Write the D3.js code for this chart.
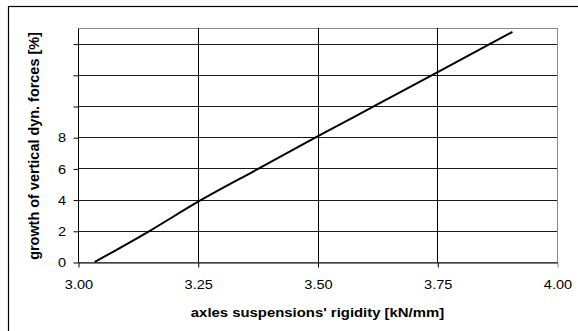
<!DOCTYPE html>
<html>
<head>
<meta charset="utf-8">
<script src="https://cdn.jsdelivr.net/npm/d3@7"></script>
<style>
  html, body { margin: 0; padding: 0; background: #fff; }
  svg { display: block; }
</style>
</head>
<body>
<svg id="chart" width="578" height="331"></svg>
<script>
// Measured curve: rigidity (kN/mm) vs growth of vertical dynamic forces (%)
const rigidity = [3.035, 3.15, 3.25, 3.375, 3.50, 3.625, 3.75, 3.907];
const growth   = [0.00,  2.00, 3.85, 5.95,  8.05, 10.10, 12.15, 14.75];

const xTicks = [3.00, 3.25, 3.50, 3.75, 4.00];
const xTickLabels = ["3.00", "3.25", "3.50", "3.75", "4.00"];
const yTicks = [0, 2, 4, 6, 8, 10, 12, 14];
const yTickLabels = ["0", "2", "4", "6", "8", "", "", ""];

const xTitle = "axles suspensions' rigidity [kN/mm]";
const yTitle = "growth of vertical dyn. forces [%]";

const svg = d3.select("#chart");
const W = 578, H = 331;
const plot = { left: 78, top: 28, right: 557, bottom: 262 };

const x = d3.scaleLinear().domain([3.0, 4.0]).range([plot.left, plot.right]);
const y = d3.scaleLinear().domain([0, 15]).range([plot.bottom, plot.top]);

const font = "'Liberation Sans', Arial, sans-serif";
const wide = 1.12;   // glyphs are drawn slightly wide

// outer frame (extends past the right and bottom edges)
svg.append("rect")
  .attr("x", 8.5).attr("y", 6.5)
  .attr("width", W).attr("height", H)
  .attr("fill", "none").attr("stroke", "#000").attr("stroke-width", 1.2);

// plot area border
svg.append("rect")
  .attr("x", plot.left + 0.5).attr("y", plot.top + 0.5)
  .attr("width", plot.right - plot.left).attr("height", plot.bottom - plot.top)
  .attr("fill", "#fff").attr("stroke", "#8a8a8a").attr("stroke-width", 1);

// horizontal gridlines
svg.append("g").selectAll("line")
  .data(yTicks.filter(d => d > 0))
  .join("line")
  .attr("x1", plot.left).attr("x2", plot.right)
  .attr("y1", d => Math.round(y(d)) + 0.5).attr("y2", d => Math.round(y(d)) + 0.5)
  .attr("stroke", "#1a1a1a").attr("stroke-width", 1);

// vertical gridlines
svg.append("g").selectAll("line")
  .data(xTicks.filter(d => d > 3.0 && d < 4.0))
  .join("line")
  .attr("x1", d => Math.round(x(d)) + 0.5).attr("x2", d => Math.round(x(d)) + 0.5)
  .attr("y1", plot.top).attr("y2", plot.bottom)
  .attr("stroke", "#000").attr("stroke-width", 1);

// x axis
const xAxis = d3.axisBottom(x)
  .tickValues(xTicks)
  .tickFormat((d, i) => xTickLabels[i])
  .tickSizeInner(5).tickSizeOuter(0).tickPadding(12);
const gx = svg.append("g")
  .attr("transform", `translate(0.5,${plot.bottom + 0.5})`)
  .call(xAxis);
gx.select(".domain").attr("stroke", "#000");
gx.selectAll(".tick line").attr("stroke", "#000");
gx.selectAll(".tick:last-child line").attr("stroke", "#8a8a8a");
gx.selectAll("text")
  .attr("font-family", font).attr("font-size", 13).attr("fill", "#000")
  .attr("transform", `scale(${wide},1)`);

// y axis
const yAxis = d3.axisLeft(y)
  .tickValues(yTicks)
  .tickFormat((d, i) => yTickLabels[i])
  .tickSizeInner(5).tickSizeOuter(0).tickPadding(7);
const gy = svg.append("g")
  .attr("transform", `translate(${plot.left + 0.5},0.5)`)
  .call(yAxis);
gy.select(".domain").attr("stroke", "#000").attr("d", `M0,${plot.top}V${plot.bottom}`);
gy.selectAll(".tick line").attr("stroke", "#000");
gy.selectAll("text")
  .attr("font-family", font).attr("font-size", 13).attr("fill", "#000")
  .attr("x", 0)
  .attr("transform", `translate(-12.5,0) scale(${wide},1)`);

// data curve
const pts = rigidity.map((r, i) => [r, growth[i]]);
svg.append("path")
  .datum(pts)
  .attr("fill", "none")
  .attr("stroke", "#000")
  .attr("stroke-width", 2)
  .attr("d", d3.line().x(d => x(d[0])).y(d => y(d[1])).curve(d3.curveMonotoneX));

// axis titles
svg.append("text")
  .attr("transform", `translate(${(plot.left + plot.right) / 2},317) scale(${wide},1)`)
  .attr("text-anchor", "middle")
  .attr("font-family", font).attr("font-size", 13.3).attr("font-weight", "bold")
  .text(xTitle);

svg.append("text")
  .attr("transform", `translate(39,${(plot.top + plot.bottom) / 2 + 1}) rotate(-90) scale(1.07,1.08)`)
  .attr("text-anchor", "middle")
  .attr("font-family", font).attr("font-size", 13.5).attr("font-weight", "bold")
  .text(yTitle);
</script>
</body>
</html>
